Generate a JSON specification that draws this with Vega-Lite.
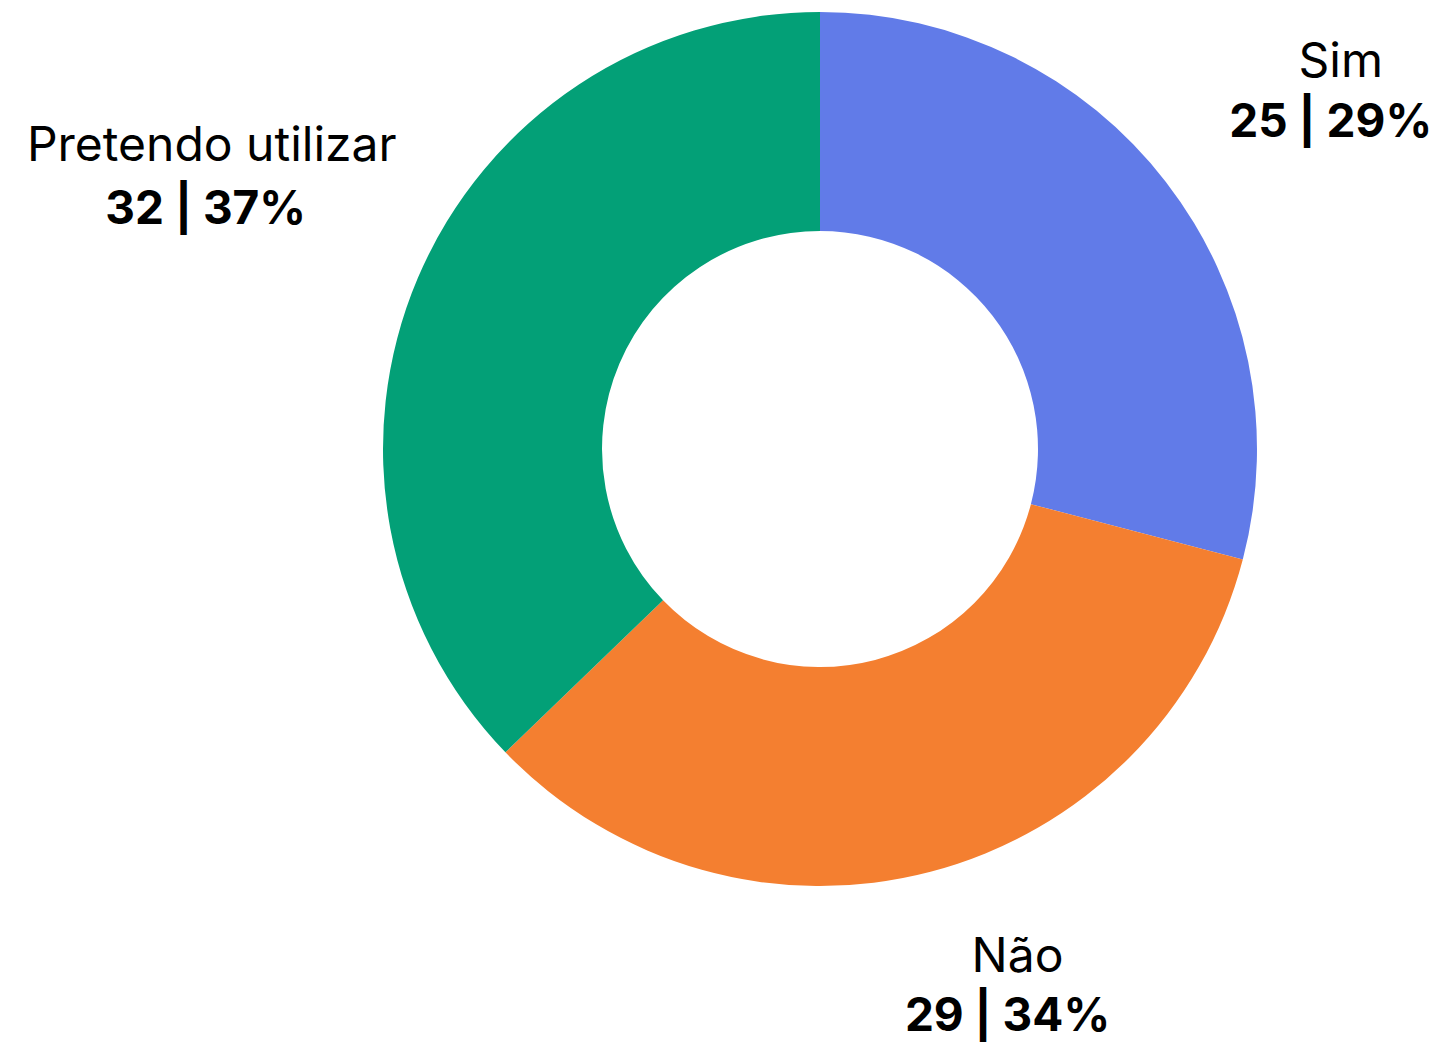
{
  "$schema": "https://vega.github.io/schema/vega-lite/v6.json",
  "width": 874,
  "height": 874,
  "autosize": {"type": "none"},
  "padding": {"left": 383, "top": 12, "right": 192, "bottom": 157},
  "background": "#ffffff",
  "config": {"view": {"stroke": null}},
  "data": {
    "values": [
      {"categoria": "Sim", "valor": 25, "ordem": 1, "rotulo": "25 | 29%"},
      {"categoria": "Não", "valor": 29, "ordem": 2, "rotulo": "29 | 34%"},
      {"categoria": "Pretendo utilizar", "valor": 32, "ordem": 3, "rotulo": "32 | 37%"}
    ]
  },
  "encoding": {
    "theta": {"field": "valor", "type": "quantitative", "stack": true},
    "order": {"field": "ordem", "type": "quantitative"}
  },
  "layer": [
    {
      "mark": {"type": "arc", "innerRadius": 218, "outerRadius": 437},
      "encoding": {
        "color": {
          "field": "categoria",
          "type": "nominal",
          "scale": {"domain": ["Sim", "Não", "Pretendo utilizar"], "range": ["#617BE8", "#F47F30", "#03A077"]},
          "legend": null
        }
      }
    },
    {
      "mark": {"type": "text", "radius": 640, "thetaOffset": 0.0372, "font": "Inter", "fontSize": 48, "align": "center", "baseline": "alphabetic", "color": "#000000"},
      "encoding": {
        "detail": {"field": "categoria"},
        "text": {"condition": {"test": "datum.categoria === 'Sim'", "field": "categoria"}, "value": ""}
      }
    },
    {
      "mark": {"type": "text", "radius": 640, "thetaOffset": 0.0372, "dx": -10, "dy": 60, "font": "Inter", "fontSize": 46, "fontWeight": "bold", "align": "center", "baseline": "alphabetic", "color": "#000000"},
      "encoding": {
        "detail": {"field": "categoria"},
        "text": {"condition": {"test": "datum.categoria === 'Sim'", "field": "rotulo"}, "value": ""}
      }
    },
    {
      "mark": {"type": "text", "radius": 559, "thetaOffset": -0.1054, "font": "Inter", "fontSize": 48, "align": "center", "baseline": "alphabetic", "color": "#000000"},
      "encoding": {
        "detail": {"field": "categoria"},
        "text": {"condition": {"test": "datum.categoria === 'Não'", "field": "categoria"}, "value": ""}
      }
    },
    {
      "mark": {"type": "text", "radius": 559, "thetaOffset": -0.1054, "dx": -10, "dy": 59, "font": "Inter", "fontSize": 46, "fontWeight": "bold", "align": "center", "baseline": "alphabetic", "color": "#000000"},
      "encoding": {
        "detail": {"field": "categoria"},
        "text": {"condition": {"test": "datum.categoria === 'Não'", "field": "rotulo"}, "value": ""}
      }
    },
    {
      "mark": {"type": "text", "radius": 673, "thetaOffset": 0.0403, "font": "Inter", "fontSize": 48, "align": "center", "baseline": "alphabetic", "color": "#000000"},
      "encoding": {
        "detail": {"field": "categoria"},
        "text": {"condition": {"test": "datum.categoria === 'Pretendo utilizar'", "field": "categoria"}, "value": ""}
      }
    },
    {
      "mark": {"type": "text", "radius": 673, "thetaOffset": 0.0403, "dx": -6, "dy": 63, "font": "Inter", "fontSize": 46, "fontWeight": "bold", "align": "center", "baseline": "alphabetic", "color": "#000000"},
      "encoding": {
        "detail": {"field": "categoria"},
        "text": {"condition": {"test": "datum.categoria === 'Pretendo utilizar'", "field": "rotulo"}, "value": ""}
      }
    }
  ]
}
